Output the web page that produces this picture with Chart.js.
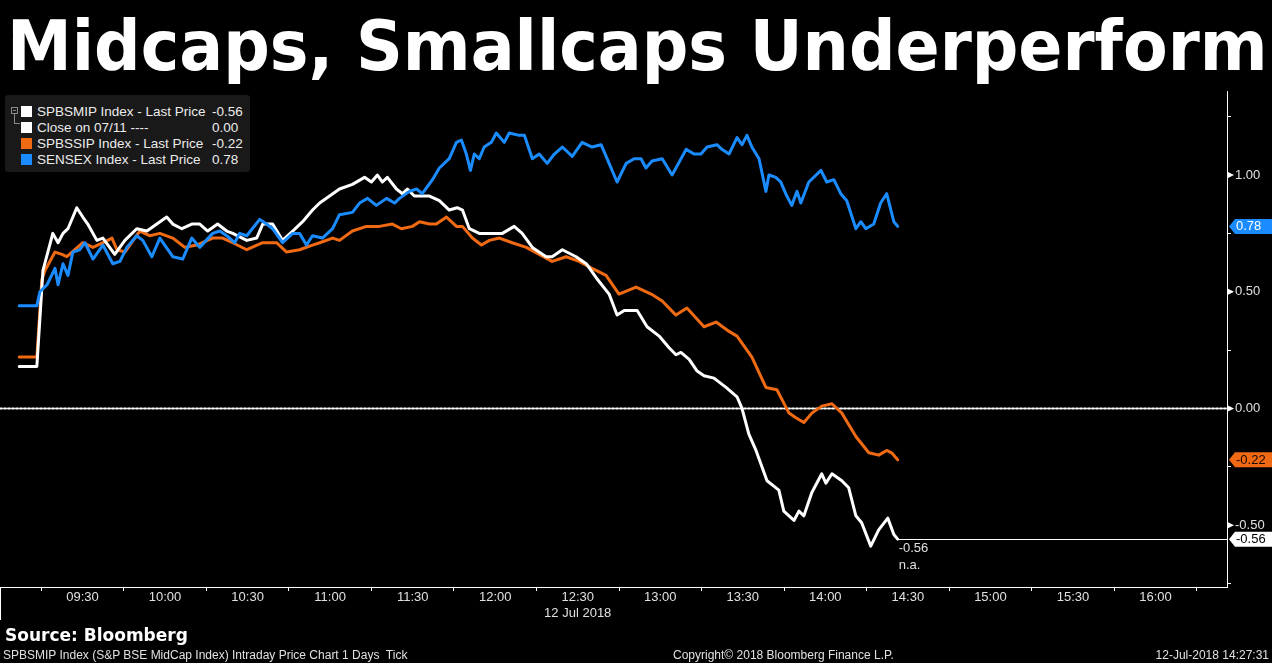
<!DOCTYPE html>
<html>
<head>
<meta charset="utf-8">
<script src="https://cdn.jsdelivr.net/npm/chart.js@4"></script>
<style>
  html, body { margin: 0; padding: 0; background: #000; }
  #wrap { position: relative; width: 1272px; height: 663px; overflow: hidden; background: #000; }
  #wrap canvas { position: absolute; left: 0; top: 0; }
  .txt { position: absolute; white-space: pre; color: #e0e0e0; font-family: "Liberation Sans", Arial, sans-serif; }
  #title { left: 7px; top: 11px; font: bold 70px/70px "DejaVu Sans", sans-serif; color: #fff; transform-origin: 0 0; }
  #source { left: 5px; top: 625px; font: bold 17px/20px "DejaVu Sans", sans-serif; color: #fff; }
  .foot { top: 648px; font-size: 12px; line-height: 14px; }
  #legend { position: absolute; left: 5px; top: 95px; width: 245px; height: 77px; background: #191919; border-radius: 3px; }
  .row { position: absolute; left: 0; height: 16px; font: 13.5px/16px "Liberation Sans", Arial, sans-serif; color: #ececec; }
  .sq { position: absolute; left: 16px; top: 2px; width: 11px; height: 11px; }
  .name { position: absolute; left: 32px; top: 0; white-space: pre; }
  .val { position: absolute; left: 207px; top: 0; white-space: pre; }
  #tree { position: absolute; left: 6px; top: 12px; width: 5px; height: 5px; border: 1px solid #8a8a8a; }
  #tree:after { content: ''; position: absolute; left: 1px; top: 2px; width: 3px; height: 1px; background: #8a8a8a; }
  #branch { position: absolute; left: 9px; top: 19px; width: 5px; height: 9px; border-left: 1px solid #8a8a8a; border-bottom: 1px solid #8a8a8a; }
</style>
</head>
<body>
<div id="wrap">
  <canvas id="chart" width="1272" height="663"></canvas>
  <div id="title" class="txt">Midcaps, Smallcaps Underperform</div>
  <div id="legend"><div id="tree"></div><div id="branch"></div></div>
  <div id="source" class="txt">Source: Bloomberg</div>
  <div class="txt foot" style="left:3px">SPBSMIP Index (S&amp;P BSE MidCap Index) Intraday Price Chart 1 Days  Tick</div>
  <div class="txt foot" style="left:673px">Copyright© 2018 Bloomberg Finance L.P.</div>
  <div class="txt foot" id="stamp" style="right:3px">12-Jul-2018 14:27:31</div>
</div>
<script>
// time axis: minutes after 09:00 on 12 Jul 2018, values in % change vs close on 07/11
const whiteTimes = [7, 13.4, 15.6, 19.2, 21.1, 22.9, 24.7, 27.9, 30.1, 31.9, 35.2, 37.4, 41.7, 45.4, 49.7, 53.4, 60.6, 62.8, 66.1, 69.7,
  72.6, 75.5, 79.1, 82.4, 84.6, 89.7, 93.3, 95.5, 99.1, 102.7, 106.4, 110, 113.6, 116.2, 119.8, 123.4, 128.1, 132.5, 135, 137.2,
  139, 140.8, 144.1, 146.3, 148.1, 150.6, 156.1, 159.7, 163.3, 166.2, 168.1, 170.6, 174.2, 178.9, 182.6, 186.9, 189.8, 193.5, 198.5, 200.7,
  204.4, 209.4, 213.1, 216.7, 221.4, 224.3, 226.9, 231.6, 235.2, 239.6, 243.2, 245.7, 247.5, 250.5, 253.4, 255.9, 259.5, 263.9, 267.9, 269.7,
  272.2, 274.8, 278.8, 283.1, 284.9, 288.6, 290.4, 292.2, 295.1, 298.7, 300.2, 302.4, 306, 308.5, 311.1, 313.2, 316.5, 319.4, 322.7, 324.9, 326.3];
const whiteVals = [0.18, 0.18, 0.59, 0.75, 0.71, 0.75, 0.77, 0.86, 0.82, 0.79, 0.72, 0.73, 0.66, 0.72, 0.77, 0.76, 0.82, 0.79, 0.77, 0.79,
  0.79, 0.76, 0.79, 0.76, 0.75, 0.72, 0.73, 0.79, 0.79, 0.72, 0.76, 0.80, 0.85, 0.88, 0.91, 0.94, 0.96, 0.99, 0.97, 1.00,
  0.97, 0.99, 0.94, 0.92, 0.94, 0.91, 0.91, 0.89, 0.85, 0.86, 0.85, 0.77, 0.75, 0.75, 0.75, 0.78, 0.75, 0.69, 0.65, 0.65,
  0.68, 0.65, 0.62, 0.56, 0.49, 0.40, 0.42, 0.42, 0.35, 0.31, 0.26, 0.23, 0.24, 0.21, 0.16, 0.14, 0.13, 0.09, 0.05, 0.00,
  -0.11, -0.18, -0.31, -0.35, -0.44, -0.48, -0.44, -0.46, -0.36, -0.28, -0.32, -0.28, -0.31, -0.34, -0.46, -0.49, -0.59, -0.52, -0.47, -0.54, -0.56];

const orangeTimes = [7, 13.4, 15.2, 16.3, 20, 22.5, 24.3, 27.2, 30.1, 33.8, 37.4, 40.7, 42.5, 45.4, 50.8, 54.4, 58.1, 62.8, 67.2, 71.5,
  77.3, 80.9, 84.6, 89.7, 95.5, 100.5, 104.2, 108.9, 113.6, 116.2, 120.9, 123.4, 128.1, 133.2, 137.9, 142.6, 145.9, 149.9, 152.5, 156.1,
  158.6, 162.3, 165.9, 168.1, 171.7, 175, 177.9, 181.5, 186.2, 191.3, 196, 200.7, 205.8, 210.5, 215.2, 220.3, 225, 231.2, 236.7, 240.7,
  245.7, 249.7, 255.9, 260.3, 265, 267.9, 273.3, 278.4, 282.4, 286.8, 289.3, 292.2, 295.1, 298.7, 302.4, 306, 311.1, 315.8, 319.4, 322.3, 324.1, 326.3];
const orangeVals = [0.22, 0.22, 0.55, 0.59, 0.67, 0.66, 0.65, 0.68, 0.71, 0.69, 0.71, 0.73, 0.68, 0.67, 0.76, 0.74, 0.75, 0.73, 0.69, 0.70,
  0.73, 0.73, 0.71, 0.68, 0.71, 0.71, 0.67, 0.68, 0.70, 0.71, 0.73, 0.72, 0.76, 0.78, 0.78, 0.79, 0.77, 0.78, 0.80, 0.79,
  0.79, 0.82, 0.78, 0.78, 0.73, 0.70, 0.72, 0.73, 0.71, 0.69, 0.66, 0.63, 0.65, 0.63, 0.60, 0.57, 0.49, 0.52, 0.49, 0.46,
  0.40, 0.43, 0.35, 0.37, 0.33, 0.31, 0.22, 0.09, 0.08, -0.02, -0.04, -0.06, -0.02, 0.01, 0.02, -0.02, -0.12, -0.19, -0.20, -0.18, -0.19, -0.22];

const blueTimes = [7, 13.4, 14.5, 17.1, 20, 21.1, 22.9, 24.7, 26.5, 29, 30.9, 33.8, 37.4, 41, 43.6, 46.1, 49.7, 51.9, 55.2, 58.1,
  62.8, 66.4, 69.7, 72.6, 77.3, 79.9, 82.4, 85.3, 87.1, 89.7, 94.4, 96.9, 99.1, 102.7, 106.4, 108.9, 111.4, 113.6, 117.2, 120.9,
  123.4, 128.1, 130.7, 133.6, 136.8, 140.5, 143.4, 145.2, 148.8, 151.4, 153.5, 157.2, 159.7, 163.3, 165.9, 167.7, 169.5, 171, 172.4, 174.2,
  176, 178.6, 180.4, 183.3, 185.1, 188.7, 190.6, 193.5, 196, 198.9, 201.5, 204.4, 208, 211.6, 215.2, 218.5, 221.4, 224.3, 227.6, 230.5,
  233, 234.8, 237, 240.7, 244.3, 249.4, 252.3, 254.8, 257, 260.6, 262.4, 265, 267.9, 269.7, 271.5, 273.3, 275.9, 278.4, 279.5, 282,
  283.8, 286, 287.8, 289.7, 291.1, 294, 298.4, 300.5, 303.1, 305.6, 307.8, 311.1, 312.9, 314.7, 317.6, 320.1, 322.3, 324.9, 326.3];
const blueVals = [0.44, 0.44, 0.50, 0.53, 0.60, 0.53, 0.62, 0.57, 0.67, 0.68, 0.71, 0.64, 0.70, 0.62, 0.63, 0.69, 0.74, 0.72, 0.65, 0.73,
  0.65, 0.64, 0.73, 0.69, 0.75, 0.76, 0.74, 0.71, 0.75, 0.74, 0.81, 0.79, 0.77, 0.71, 0.75, 0.75, 0.70, 0.74, 0.73, 0.77,
  0.83, 0.84, 0.88, 0.90, 0.87, 0.90, 0.88, 0.90, 0.93, 0.94, 0.92, 0.98, 1.03, 1.07, 1.14, 1.15, 1.09, 1.02, 1.09, 1.07,
  1.12, 1.14, 1.18, 1.14, 1.18, 1.17, 1.17, 1.07, 1.09, 1.05, 1.09, 1.12, 1.08, 1.14, 1.12, 1.13, 1.05, 0.97, 1.05, 1.07,
  1.07, 1.03, 1.06, 1.07, 1.00, 1.11, 1.09, 1.09, 1.12, 1.13, 1.11, 1.09, 1.16, 1.13, 1.17, 1.12, 1.07, 0.93, 1.00, 0.99,
  0.97, 0.91, 0.87, 0.93, 0.88, 0.97, 1.02, 0.97, 0.98, 0.92, 0.89, 0.77, 0.80, 0.77, 0.79, 0.88, 0.92, 0.80, 0.78];

const closeTimes = [0, 446];
const closeVals = [0, 0];

const legendNames = ['SPBSMIP Index - Last Price', 'Close on 07/11 ----', 'SPBSSIP Index - Last Price', 'SENSEX Index - Last Price'];
const legendValues = ['-0.56', '0.00', '-0.22', '0.78'];
const seriesColors = ['#ffffff', '#ffffff', '#f06a14', '#1a8cff'];

const xTicks = [];  // every 15 min, labelled on :00 and :30
for (let m = 15; m <= 435; m += 15) xTicks.push(m);
const yTicks = [-0.75, -0.5, -0.25, 0, 0.25, 0.5, 0.75, 1, 1.25];
const dateLabel = '12 Jul 2018';

const pts = (ts, vs) => ts.map((t, i) => ({ x: t, y: vs[i] }));
const fmtTime = (m) => {
    const h = 9 + Math.floor(m / 60);
    const mm = m % 60;
    return String(h).padStart(2, '0') + ':' + String(mm).padStart(2, '0');
};
const isMajor = (v) => Math.abs(v * 2 - Math.round(v * 2)) < 1e-6;

// legend rows
const legendEl = document.getElementById('legend');
legendNames.forEach((name, i) => {
    const row = document.createElement('div');
    row.className = 'row';
    row.style.top = (9 + i * 16) + 'px';
    row.style.width = '245px';
    row.innerHTML = `<div class="sq" style="background:${seriesColors[i]}"></div>
        <div class="name">${name}</div><div class="val">${legendValues[i]}</div>`;
    legendEl.appendChild(row);
});

// fit the title across the page width
const titleEl = document.getElementById('title');
titleEl.style.transform = `scaleX(${1261 / titleEl.offsetWidth})`;

const extras = {
    id: 'extras',
    afterDatasetsDraw(chart) {
        const { ctx, chartArea, scales: { x, y } } = chart;
        const right = chartArea.right;
        ctx.save();

        // triangles on the labelled y ticks
        ctx.fillStyle = '#ffffff';
        yTicks.filter(isMajor).forEach(v => {
            const py = y.getPixelForValue(v);
            ctx.beginPath();
            ctx.moveTo(right, py - 3.5);
            ctx.lineTo(right + 7, py);
            ctx.lineTo(right, py + 3.5);
            ctx.closePath();
            ctx.fill();
        });

        // last price line and note for SPBSMIP
        const lastT = whiteTimes[whiteTimes.length - 1];
        const lastV = whiteVals[whiteVals.length - 1];
        const ly = Math.round(y.getPixelForValue(lastV)) + 0.5;
        const lx = x.getPixelForValue(lastT);
        ctx.strokeStyle = '#ffffff';
        ctx.lineWidth = 1;
        ctx.beginPath();
        ctx.moveTo(lx, ly);
        ctx.lineTo(right, ly);
        ctx.stroke();
        ctx.fillStyle = '#e0e0e0';
        ctx.font = '13px "Liberation Sans", Arial, sans-serif';
        ctx.textBaseline = 'middle';
        ctx.textAlign = 'left';
        ctx.fillText(lastV.toFixed(2), lx + 1, ly + 9);
        ctx.fillText('n.a.', lx + 1, ly + 26);

        // value tags on the right axis
        const tags = [
            { v: blueVals[blueVals.length - 1], bg: seriesColors[3], fg: '#ffffff' },
            { v: orangeVals[orangeVals.length - 1], bg: seriesColors[2], fg: '#1a0800' },
            { v: lastV, bg: '#ffffff', fg: '#000000' }
        ];
        tags.forEach(t => {
            const py = y.getPixelForValue(t.v);
            ctx.fillStyle = t.bg;
            ctx.beginPath();
            ctx.moveTo(right + 2, py);
            ctx.lineTo(right + 8, py - 7.5);
            ctx.lineTo(chart.width, py - 7.5);
            ctx.lineTo(chart.width, py + 7.5);
            ctx.lineTo(right + 8, py + 7.5);
            ctx.closePath();
            ctx.fill();
            ctx.fillStyle = t.fg;
            ctx.fillText(t.v.toFixed(2), right + 9, py + 0.5);
        });

        // left bracket of the time axis
        ctx.strokeStyle = '#ffffff';
        ctx.beginPath();
        ctx.moveTo(0.5, chartArea.bottom);
        ctx.lineTo(0.5, chartArea.bottom + 33);
        ctx.stroke();
        ctx.restore();
    }
};

new Chart(document.getElementById('chart'), {
    type: 'line',
    data: {
        datasets: [{
            label: legendNames[3],
            data: pts(blueTimes, blueVals),
            borderColor: seriesColors[3],
            order: 0
        }, {
            label: legendNames[0],
            data: pts(whiteTimes, whiteVals),
            borderColor: seriesColors[0],
            order: 1
        }, {
            label: legendNames[2],
            data: pts(orangeTimes, orangeVals),
            borderColor: seriesColors[2],
            order: 2
        }, {
            label: legendNames[1],
            data: pts(closeTimes, closeVals),
            borderColor: seriesColors[1],
            borderWidth: 2,
            borderDash: [2, 2],
            order: 3
        }]
    },
    options: {
        responsive: false,
        animation: false,
        events: [],
        layout: { padding: { top: 91, left: 0, right: 0, bottom: 0 } },
        elements: {
            point: { radius: 0 },
            line: { borderWidth: 3, tension: 0, borderJoinStyle: 'round', borderCapStyle: 'round' }
        },
        plugins: {
            legend: { display: false },
            tooltip: { enabled: false }
        },
        scales: {
            x: {
                type: 'linear',
                min: 0,
                max: 446,
                afterBuildTicks: (scale) => { scale.ticks = xTicks.map(v => ({ value: v })); },
                afterFit: (scale) => { scale.height = 76; },
                border: { color: '#ffffff', width: 1 },
                grid: {
                    drawOnChartArea: false,
                    tickLength: 4,
                    color: (c) => (c.tick && c.tick.value % 30 === 0) ? 'rgba(0,0,0,0)' : '#ffffff'
                },
                ticks: {
                    autoSkip: false,
                    maxRotation: 0,
                    padding: -1,
                    color: '#e0e0e0',
                    font: { family: '"Liberation Sans", Arial, sans-serif', size: 13, lineHeight: 1.2 },
                    callback: (v) => {
                        if (v % 30 !== 0) return '';
                        return v === 210 ? [fmtTime(v), dateLabel] : fmtTime(v);
                    }
                }
            },
            y: {
                position: 'right',
                min: -0.765,
                max: 1.36,
                afterBuildTicks: (scale) => { scale.ticks = yTicks.map(v => ({ value: v })); },
                afterFit: (scale) => { scale.width = 45; },
                border: { color: '#ffffff', width: 1 },
                grid: {
                    drawOnChartArea: false,
                    tickLength: 4,
                    color: (c) => (c.tick && isMajor(c.tick.value)) ? 'rgba(0,0,0,0)' : '#ffffff'
                },
                ticks: {
                    padding: 4,
                    color: '#e0e0e0',
                    font: { family: '"Liberation Sans", Arial, sans-serif', size: 13 },
                    callback: (v) => isMajor(v) ? v.toFixed(2) : ''
                }
            }
        }
    },
    plugins: [extras]
});
</script>
</body>
</html>
